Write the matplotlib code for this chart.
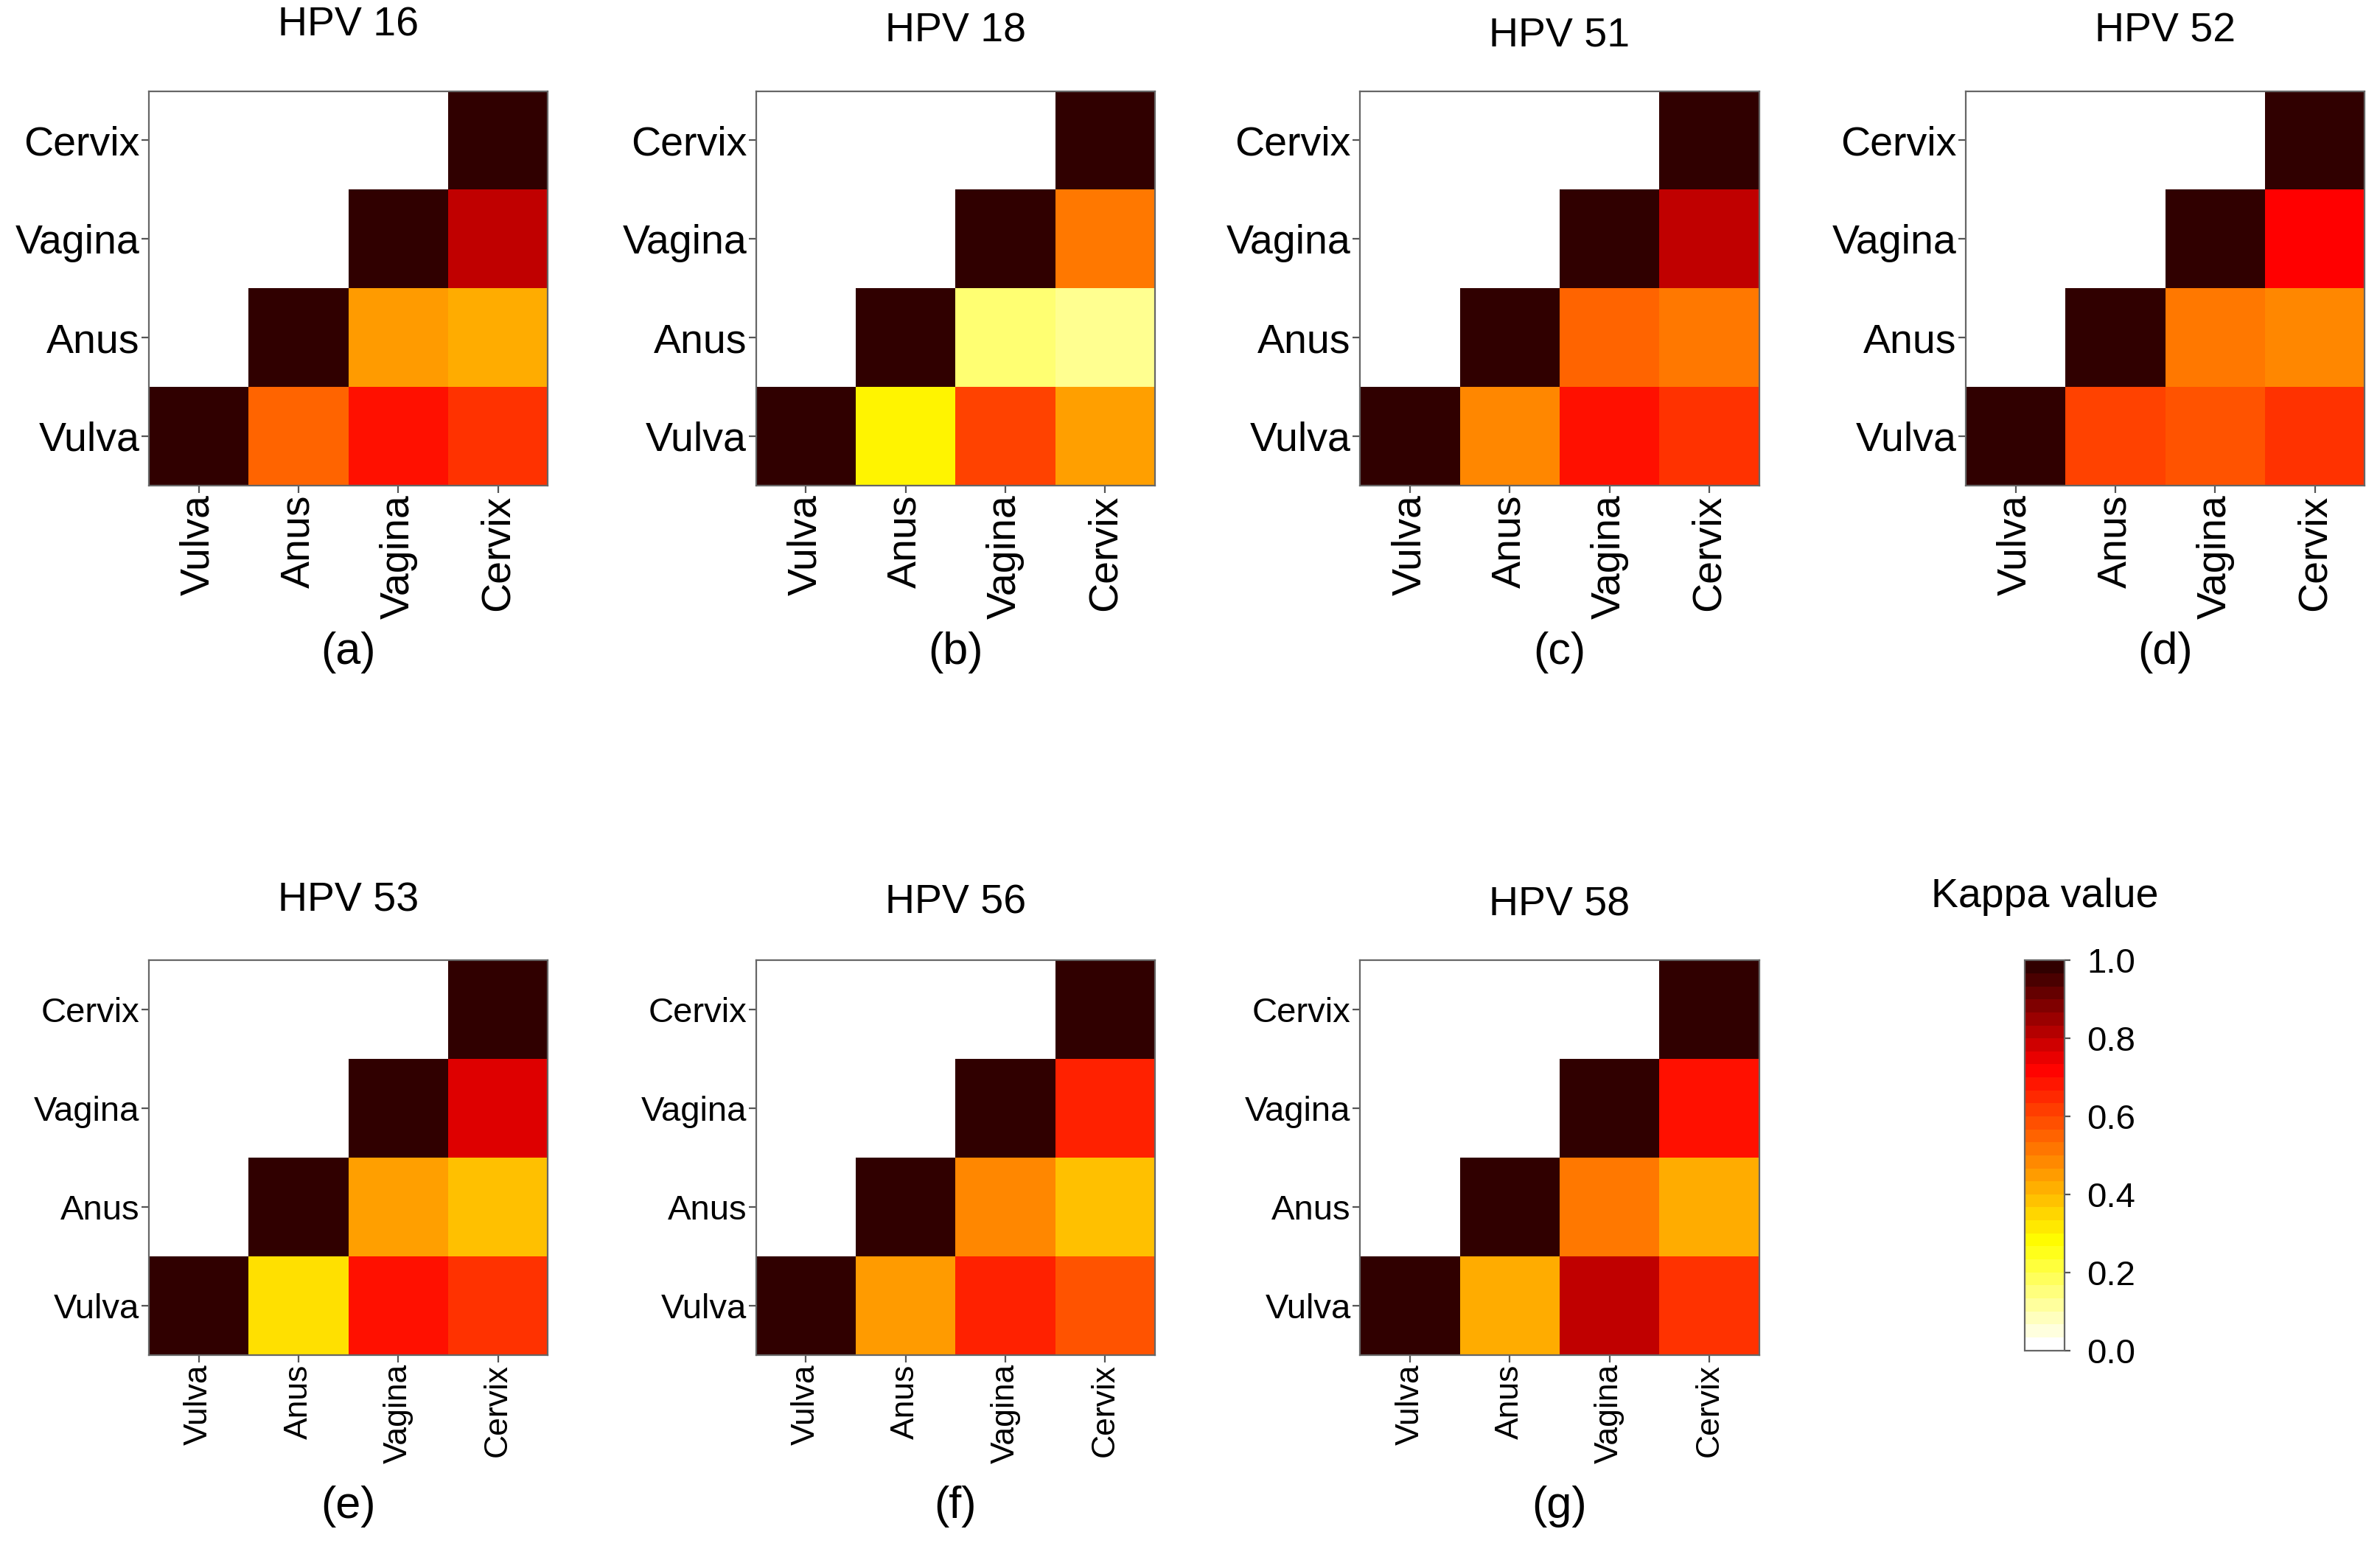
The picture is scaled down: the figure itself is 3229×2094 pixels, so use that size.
import numpy as np
import matplotlib
matplotlib.use('Agg')
import matplotlib.pyplot as plt
from matplotlib.colors import LinearSegmentedColormap, Normalize
from matplotlib.cm import ScalarMappable

plt.rcParams['font.family'] = ['Liberation Sans', 'DejaVu Sans']

# Sitios anatómicos (ordem dos eixos)
sitios = ['Vulva', 'Anus', 'Vagina', 'Cervix']

# Valores kappa fora da diagonal, por ordem:
# Vulva-Anus, Vulva-Vagina, Vulva-Cervix, Anus-Vagina, Anus-Cervix, Vagina-Cervix
hpv16 = [0.55, 0.70, 0.64, 0.45, 0.42, 0.81]
hpv18 = [0.29, 0.61, 0.445, 0.15, 0.12, 0.515]
hpv51 = [0.485, 0.70, 0.64, 0.55, 0.515, 0.81]
hpv52 = [0.61, 0.58, 0.64, 0.515, 0.485, 0.73]
hpv53 = [0.325, 0.70, 0.64, 0.445, 0.385, 0.77]
hpv56 = [0.45, 0.67, 0.58, 0.485, 0.385, 0.67]
hpv58 = [0.42, 0.81, 0.64, 0.515, 0.42, 0.70]

titulos = ['HPV 16', 'HPV 18', 'HPV 51', 'HPV 52', 'HPV 53', 'HPV 56', 'HPV 58']
letras = ['(a)', '(b)', '(c)', '(d)', '(e)', '(f)', '(g)']
dados = [hpv16, hpv18, hpv51, hpv52, hpv53, hpv56, hpv58]

cores = [(0.0, '#FFFFFF'), (0.27, '#FFFF00'), (0.73, '#FF0000'), (1.0, '#300000')]
cmap = LinearSegmentedColormap.from_list('kappa', cores, N=256)
cmap_barra = LinearSegmentedColormap.from_list('kappa30', cores, N=30)


def matriz(vals):
    m = np.full((4, 4), np.nan)
    for i in range(4):
        m[i, i] = 1.0
    pares = [(0, 1), (0, 2), (0, 3), (1, 2), (1, 3), (2, 3)]
    for (i, j), v in zip(pares, vals):
        m[i, j] = v  # linha = y, coluna = x
    return m


fig = plt.figure(figsize=(16.145, 10.47), dpi=200)

W, H = 1568.0, 1017.0
lefts = [98, 498, 896, 1295, 98, 498, 896]
tops = [60, 60, 60, 60, 633, 633, 633]
pads = [27, 24, 22, 24, 24, 23, 22]

for k in range(7):
    topo = k < 4
    ax = fig.add_axes([lefts[k] / W, 1 - (tops[k] + 260) / H, 263 / W, 260 / H])
    m = matriz(dados[k])
    ax.pcolormesh(np.arange(5), np.arange(5), np.ma.masked_invalid(m),
                  cmap=cmap, vmin=0, vmax=1)
    ax.set_xlim(0, 4)
    ax.set_ylim(0, 4)
    ax.set_xticks(np.arange(4) + 0.5)
    ax.set_yticks(np.arange(4) + 0.5)
    fx = 20 if topo else 16
    fy = 20 if topo else 17
    ax.set_xticklabels(sitios, rotation=90, fontsize=fx)
    ax.set_yticklabels(sitios, fontsize=fy)
    ax.tick_params(length=3.5, width=0.8, color='#555555', pad=1)
    for s in ax.spines.values():
        s.set_color('#666666')
        s.set_linewidth(0.8)
    ax.set_title(titulos[k], fontsize=20, pad=pads[k])
    cx = (lefts[k] + 131.5) / W
    cy = 1 - 430 / H if topo else 1 - 993 / H
    fig.text(cx, cy, letras[k], fontsize=22, ha='center', va='center')

# Barra de cores
cax = fig.add_axes([1334 / W, 1 - 890 / H, 26 / W, 257 / H])
sm = ScalarMappable(norm=Normalize(0, 1), cmap=cmap_barra)
cb = fig.colorbar(sm, cax=cax, ticks=[0, 0.2, 0.4, 0.6, 0.8, 1.0])
cb.ax.set_yticklabels(['0.0', '0.2', '0.4', '0.6', '0.8', '1.0'], fontsize=17)
cb.ax.tick_params(length=3, width=0.8, color='#555555', pad=8)
cb.outline.set_edgecolor('#666666')
cb.outline.set_linewidth(0.8)
fig.text(1347 / W, 1 - 591 / H, 'Kappa value', fontsize=20, ha='center', va='center')

plt.savefig('out.png', dpi=200)
plt.close()
